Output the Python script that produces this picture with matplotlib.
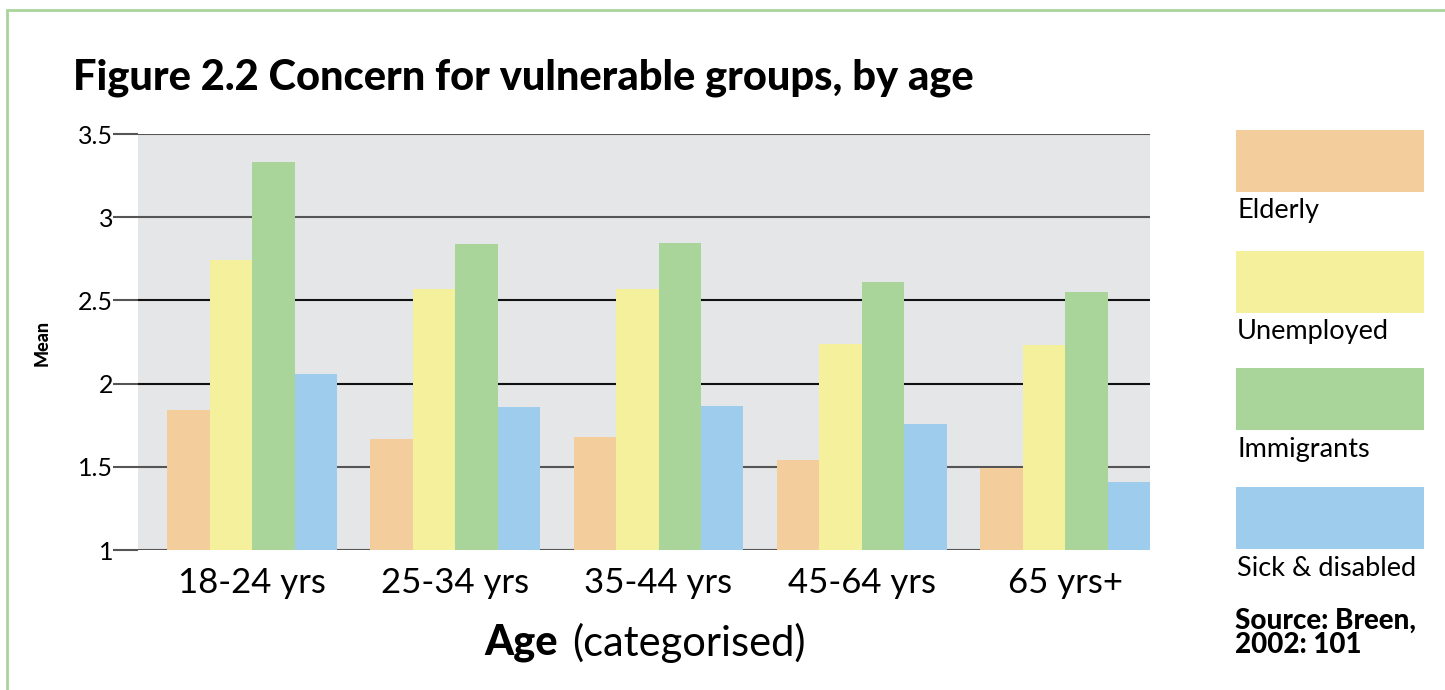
import numpy as np
import matplotlib
matplotlib.use('Agg')
import matplotlib.pyplot as plt
from matplotlib.patches import Rectangle

# data
ages = ['18-24 yrs', '25-34 yrs', '35-44 yrs', '45-64 yrs', '65 yrs+']
groups = ['Elderly', 'Unemployed', 'Immigrants', 'Sick & disabled']
elderly = [1.84, 1.67, 1.68, 1.54, 1.49]
unemployed = [2.74, 2.57, 2.57, 2.24, 2.23]
immigrants = [3.33, 2.84, 2.845, 2.61, 2.55]
sick = [2.06, 1.86, 1.865, 1.76, 1.41]
yticks = [1, 1.5, 2, 2.5, 3, 3.5]
ytick_labels = ['1', '1.5', '2', '2.5', '3', '3.5']

colors = ['#F3CD9B', '#F5F09C', '#A9D59A', '#9DCCED']
W, H = 1445, 690


def fx(x):
    return x / W


def fy(y):
    return 1 - y / H


fig = plt.figure(figsize=(W / 100, H / 100), dpi=100)
fig.patch.set_facecolor('white')

# green frame running off the right and bottom edges
fig.add_artist(Rectangle((fx(7), fy(720)), fx(1500), 710 / H,
                         transform=fig.transFigure, fill=False,
                         edgecolor='#A9D59A', linewidth=2))

ax = fig.add_axes([fx(138), fy(550), fx(1150 - 138), (550 - 134) / H])
ax.set_facecolor('#E5E6E8')

x = np.arange(len(ages))
bw = 0.209
series = [elderly, unemployed, immigrants, sick]
for i, vals in enumerate(series):
    ax.bar(x + (i - 1.5) * bw, np.array(vals) - 1, bottom=1, width=bw,
           color=colors[i], zorder=3, linewidth=0)

ax.set_ylim(1, 3.5)
ax.set_xlim(-0.561, 4.418)
line_cols = ['#555555', '#555555', '#111111', '#111111', '#555555', '#555555']
for yv, c in zip(yticks, line_cols):
    ax.axhline(yv, color=c, linewidth=1.5, zorder=2)

for s in ax.spines.values():
    s.set_visible(False)

ax.set_yticks(yticks)
ax.set_yticklabels(ytick_labels, fontsize=18, family='Lato')
ax.tick_params(axis='y', length=18, width=1.5, color='#555555', pad=0)
ax.set_xticks(x)
ax.set_xticklabels(ages, fontsize=25, family='Lato')
ax.tick_params(axis='x', length=0, pad=12)

# title and axis labels
fig.text(fx(73), fy(78), 'Figure 2.2 Concern for vulnerable groups, by age',
         fontsize=30, family='Lato', weight='black', va='center', ha='left')
fig.text(fx(42), fy(343), 'Mean', rotation=90, fontsize=13, family='Lato',
         weight='black', va='center', ha='center')
fig.text(fx(558), fy(643), 'Age', fontsize=30, family='Lato', weight='black',
         va='center', ha='right')
fig.text(fx(572), fy(643), '(categorised)', fontsize=30, family='Lato',
         va='center', ha='left')

# legend as stacked swatches with labels below
tops = [130, 251, 368, 487]
for i, g in enumerate(groups):
    fig.add_artist(Rectangle((fx(1236), fy(tops[i] + 62)), fx(188), 62 / H,
                             transform=fig.transFigure, color=colors[i], linewidth=0))
    fig.text(fx(1237), fy(tops[i] + 81), g, fontsize=19.5, family='Lato',
             va='center', ha='left')

fig.text(fx(1235), fy(633), 'Source: Breen,\n2002: 101', fontsize=20,
         family='Lato', weight='black', va='center', ha='left', linespacing=0.95)

fig.savefig('out.png', dpi=100)
